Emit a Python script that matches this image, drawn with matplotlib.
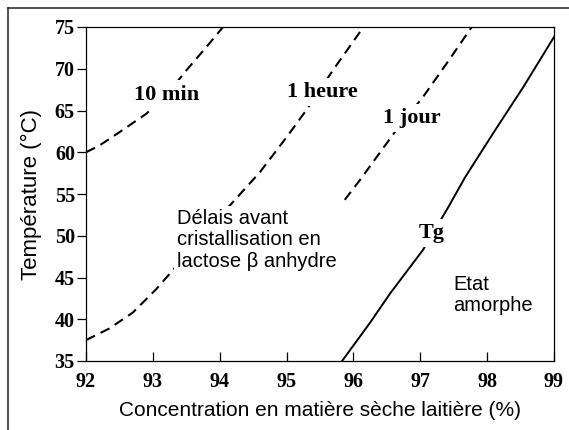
import matplotlib
matplotlib.use("Agg")
import matplotlib.pyplot as plt
from matplotlib.lines import Line2D

# ---- data ----
ten_min_x = [92.0, 92.2, 92.5, 92.9, 93.2, 93.5, 93.8, 94.05]
ten_min_y = [60.0, 60.8, 62.4, 64.6, 66.8, 69.8, 72.6, 75.0]

one_hour_x = [92.0, 92.35, 92.7, 93.05, 93.4, 93.8, 94.25, 94.6, 95.0, 95.3, 95.7, 96.15]
one_hour_y = [37.5, 38.9, 40.8, 43.6, 46.8, 50.5, 54.5, 57.6, 61.8, 65.1, 69.9, 75.0]

one_day_x = [95.87, 96.1, 96.4, 96.7, 97.03, 97.4, 97.77]
one_day_y = [54.3, 56.7, 60.0, 63.3, 66.5, 70.7, 75.0]

tg_x = [95.83, 96.25, 96.55, 97.04, 97.41, 97.67, 98.1, 98.54, 99.0]
tg_y = [35.0, 39.6, 43.1, 48.3, 53.3, 57.0, 62.4, 67.8, 73.8]

x_ticks = [92, 93, 94, 95, 96, 97, 98, 99]
y_ticks = [35, 40, 45, 50, 55, 60, 65, 70, 75]

x_label = "Concentration en matière sèche laitière (%)"
y_label = "Température (°C)"

curve_labels = ["10 min", "1 heure", "1 jour", "Tg"]
region_text = "Délais avant\ncristallisation en\nlactose β anhydre"
amorph_text = "Etat\namorphe"

# ---- figure ----
W, H = 569, 430
fig = plt.figure(figsize=(W / 100, H / 100), dpi=100)
ax = fig.add_axes([86 / W, 1 - 361 / H, (554 - 86) / W, (361 - 27) / H])

serif = "Liberation Serif"
sans = "Liberation Sans"

dash = (0, (4.8, 3.0))
lw = 1.5
ax.plot(ten_min_x, ten_min_y, color="black", lw=lw, linestyle=dash, zorder=2)
ax.plot(one_hour_x, one_hour_y, color="black", lw=lw, linestyle=dash, zorder=2)
ax.plot(one_day_x, one_day_y, color="black", lw=lw, linestyle=dash, zorder=2)
ax.plot(tg_x, tg_y, color="black", lw=1.4, zorder=2)

ax.set_xlim(92, 99)
ax.set_ylim(35, 75)
ax.set_xticks(x_ticks)
ax.set_yticks(y_ticks)
ax.set_xticklabels([str(v) for v in x_ticks], fontfamily=serif, fontweight="bold", fontsize=14.5)
ax.set_yticklabels([str(v) for v in y_ticks], fontfamily=serif, fontweight="bold", fontsize=14.5)
ax.tick_params(axis="y", direction="out", length=6.5, width=0.9, pad=1.5)
ax.tick_params(axis="x", direction="in", length=6.5, width=0.9, pad=8)
for s in ax.spines.values():
    s.set_linewidth(0.9)

ax.set_xlabel(x_label, fontfamily=sans, fontsize=15)
ax.set_ylabel(y_label, fontfamily=sans, fontsize=16)
ax.xaxis.label.set_va("center")
ax.yaxis.label.set_va("center")
ax.xaxis.set_label_coords(0.5, -0.147)
ax.yaxis.set_label_coords(-0.1175, 0.5)

box = dict(facecolor="white", edgecolor="none", pad=3)
label_pos = [(93.21, 66.9), (95.53, 67.2), (96.88, 64.1), (97.17, 50.3)]
for txt, (lx, ly) in zip(curve_labels, label_pos):
    ax.text(lx, ly, txt, fontfamily=serif, fontweight="bold", fontsize=16,
            ha="center", va="center", bbox=box, zorder=3)

ax.text(93.36, 49.5, region_text, fontfamily=sans, fontsize=14.5, ha="left",
        va="center", multialignment="left", linespacing=1.15,
        bbox=dict(facecolor="white", edgecolor="none", pad=2), zorder=3)
ax.text(97.49, 42.9, amorph_text, fontfamily=sans, fontsize=14.5, ha="left",
        va="center", multialignment="left", linespacing=1.15, zorder=3)

# outer frame (top and left edges visible)
fig.add_artist(Line2D([8 / W, 1.0], [1 - 8 / H, 1 - 8 / H], transform=fig.transFigure,
                      color="#222222", lw=1.1))
fig.add_artist(Line2D([8 / W, 8 / W], [0.0, 1 - 8 / H], transform=fig.transFigure,
                      color="#222222", lw=1.1))

fig.savefig("out.png", dpi=100)
